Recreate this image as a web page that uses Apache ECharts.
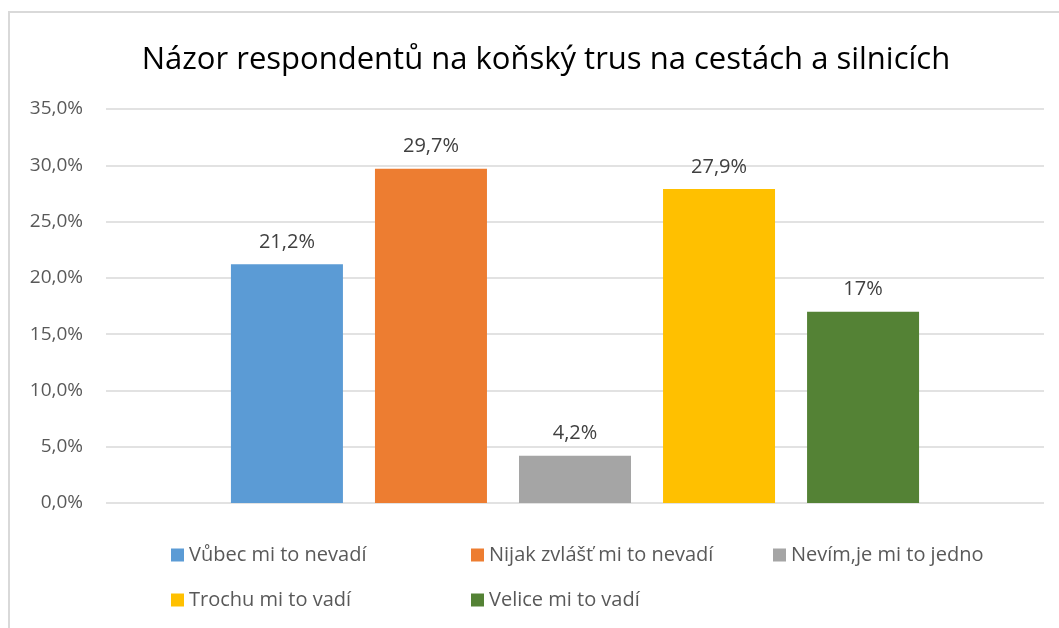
<!DOCTYPE html>
<html>
<head>
<meta charset="utf-8">
<script src="https://cdn.jsdelivr.net/npm/echarts@6/dist/echarts.min.js"></script>
<style>
  html, body { margin: 0; padding: 0; background: #fff; }
  #chart { width: 1059px; height: 628px; }
</style>
</head>
<body>
<div id="chart"></div>
<script>
// Survey answers and their shares (%)
const answers = [
  'Vůbec mi to nevadí',
  'Nijak zvlášť mi to nevadí',
  'Nevím,je mi to jedno',
  'Trochu mi to vadí',
  'Velice mi to vadí'
];
const shares = [21.2, 29.7, 4.2, 27.9, 17];
const colors = ['#5b9bd5', '#ed7d31', '#a5a5a5', '#ffc000', '#548235'];
const yTicks = [0, 5, 10, 15, 20, 25, 30, 35];

// Legend slots: two rows, three columns
const legendPos = [
  { left: 171, top: 545 },
  { left: 471, top: 545 },
  { left: 773, top: 545 },
  { left: 171, top: 590 },
  { left: 471, top: 590 }
];

const fmtPct = v => String(v).replace('.', ',') + '%';
const fmtTick = v => v.toFixed(1).replace('.', ',') + '%';

const chart = echarts.init(document.getElementById('chart'));
chart.setOption({
  animation: false,
  textStyle: { fontFamily: 'Open Sans' },
  graphic: [{
    type: 'rect',
    shape: { x: 9, y: 12, width: 1070, height: 640 },
    style: { fill: 'none', stroke: '#d9d9d9', lineWidth: 2 },
    silent: true
  }],
  title: {
    text: 'Názor respondentů na koňský trus na cestách a silnicích',
    left: 541,
    textAlign: 'center',
    top: 40,
    textStyle: { fontSize: 31, fontWeight: 'normal', color: '#000', fontFamily: 'Open Sans' }
  },
  grid: { left: 106, right: 15, top: 109, bottom: 125, containLabel: false },
  xAxis: {
    type: 'category',
    data: [''],
    axisLine: { show: false },
    axisTick: { show: false },
    axisLabel: { show: false }
  },
  yAxis: {
    type: 'value',
    min: yTicks[0],
    max: yTicks[yTicks.length - 1],
    interval: yTicks[1] - yTicks[0],
    axisLine: { show: false },
    axisTick: { show: false },
    splitLine: { lineStyle: { color: '#d9d9d9', width: 1.5 } },
    axisLabel: { formatter: fmtTick, color: '#595959', fontSize: 19, margin: 23 }
  },
  legend: answers.map((name, i) => ({
    data: [name],
    left: legendPos[i].left,
    top: legendPos[i].top,
    padding: 0,
    itemWidth: 13,
    itemHeight: 13,
    itemGap: 0,
    icon: 'rect',
    selectedMode: false,
    textStyle: { color: '#595959', fontSize: 20 }
  })),
  series: answers.map((name, i) => ({
    type: 'bar',
    name: name,
    data: [shares[i]],
    barWidth: 112,
    barGap: '28.6%',
    itemStyle: { color: colors[i] },
    label: {
      show: true,
      position: 'top',
      distance: 12,
      formatter: p => fmtPct(p.value),
      color: '#404040',
      fontSize: 20
    }
  }))
});
</script>
</body>
</html>
